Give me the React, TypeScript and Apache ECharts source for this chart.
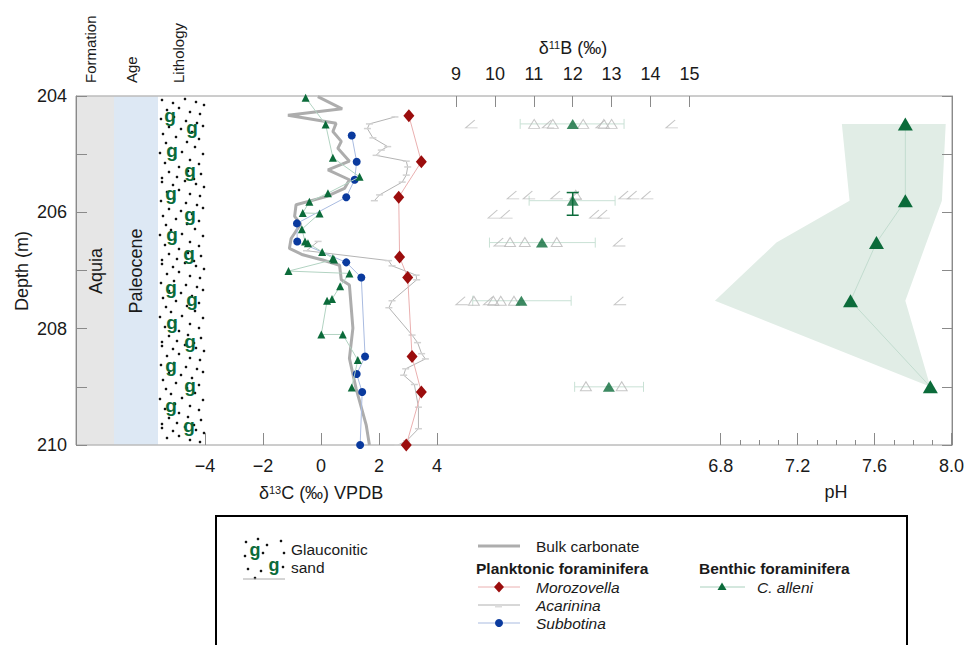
import React, { useEffect, useRef } from 'react';
import * as echarts from 'echarts';

const FONT = "'Liberation Sans', Arial, Helvetica, sans-serif";

// ---------- depth axis ----------
const depthMin = 204;
const depthMax = 210;

// ---------- δ13C panel ----------
const bulkDepth = [204.01, 204.22, 204.33, 204.47, 204.61, 204.78, 204.9, 205.12, 205.27, 205.44, 205.59, 205.73, 205.87, 206.07, 206.2, 206.45, 206.62, 206.73, 206.82, 206.91, 207.16, 207.25, 207.99, 208.51, 209.03, 209.66, 210.0];
const bulkD13C = [-0.11, 0.73, -1.14, 0.52, 0.41, 0.7, 0.58, 0.98, 0.24, 0.98, 0.81, 0.18, -0.86, -0.91, -0.7, -1.03, -1.09, -0.63, 0.06, 0.64, 0.7, 0.98, 1.1, 0.98, 1.21, 1.56, 1.67];

const subbotinaDepth = [204.68, 205.13, 205.44, 205.74, 206.19, 206.5, 206.86, 207.12, 208.48, 208.78, 209.09, 210.0];
const subbotinaD13C = [1.06, 1.23, 1.16, 0.87, -0.83, -0.82, 0.87, 1.39, 1.52, 1.23, 1.42, 1.35];

const morozovellaDepth = [204.34, 205.13, 205.74, 206.77, 207.12, 208.48, 209.09, 210.0];
const morozovellaD13C = [3.03, 3.46, 2.68, 2.71, 2.99, 3.14, 3.46, 2.94];

const acarininaUpperDepth = [204.36, 204.48, 204.56, 204.72, 204.87, 204.93, 205.02, 205.12, 205.22, 205.36, 205.48, 205.7, 205.8];
const acarininaUpperD13C = [2.55, 1.67, 1.6, 1.79, 2.3, 2.08, 1.9, 2.94, 2.99, 2.94, 2.8, 2.02, 1.84];
const acarininaLowerDepth = [206.5, 206.66, 206.83, 206.92, 207.08, 207.16, 207.52, 207.64, 208.11, 208.24, 208.43, 208.52, 208.69, 208.8, 208.96, 209.35, 209.72, 209.93, 210.0];
const acarininaLowerD13C = [-0.1, -0.5, 2.33, 2.45, 3.28, 3.3, 2.45, 2.34, 3.14, 3.33, 3.47, 3.6, 2.92, 2.85, 3.22, 3.36, 3.36, 2.95, 2.65];

const alleniD13CDepth = [204.03, 204.49, 205.06, 205.39, 205.67, 205.82, 206.01, 206.02, 206.29, 206.5, 206.53, 206.68, 206.79, 206.81, 207.01, 207.05, 207.27, 207.49, 207.52, 208.1, 208.1, 208.54, 209.01];
const alleniD13C = [-0.53, 0.16, 0.41, 1.33, 0.24, -0.4, -0.63, -0.05, -0.66, -0.55, -0.45, 0.04, 0.41, 0.45, -1.12, 0.98, 0.66, 0.38, 0.21, 0.01, 0.75, 1.27, 1.06];

const d13CTicks = [-4, -2, 0, 2, 4];

// ---------- δ11B panel ----------
const alleniD11BDepth = [204.48, 205.8, 206.52, 207.52, 209.0];
const alleniD11BMean = [12.0, 12.0, 11.21, 10.68, 12.93];
const alleniD11BLow = [10.65, 10.88, 9.86, 9.43, 12.05];
const alleniD11BHigh = [13.32, 13.09, 12.58, 11.96, 13.82];
const depthErrCenter = [12.0];
const depthErrDepthLow = [205.66];
const depthErrDepthHigh = [206.05];

const specimenDepth = [204.48, 204.48, 204.48, 204.48, 204.48, 205.7, 206.51, 206.51, 206.51, 207.52, 207.52, 207.52, 207.52, 208.99, 208.99];
const specimenD11B = [11.01, 11.49, 12.27, 12.8, 13.0, 12.08, 10.39, 10.77, 11.59, 9.46, 9.96, 10.15, 10.49, 12.34, 13.26];

const acarininaD11BDepth = [204.48, 204.48, 204.48, 204.48, 205.7, 205.7, 205.7, 205.7, 205.7, 205.7, 205.7, 206.03, 206.03, 206.03, 206.03, 206.51, 206.51, 207.52, 207.52, 207.52];
const acarininaD11B = [9.4, 11.37, 12.75, 14.55, 10.47, 10.88, 11.59, 12.08, 13.34, 13.56, 13.92, 9.98, 10.3, 12.59, 12.8, 10.13, 13.2, 9.15, 9.86, 13.22];

// ---------- pH panel ----------
const pHDepth = [204.48, 205.8, 206.52, 207.52, 209.0];
const pHValue = [7.76, 7.76, 7.61, 7.475, 7.89];
const pHLower = [7.43, 7.47, 7.09, 6.77, 7.89];
const pHUpper = [7.97, 7.95, 7.87, 7.76, 7.89];

const C_GREEN = '#0b6b3a';
const C_RED = '#9b0d0d';
const C_BLUE = '#0a3a9e';
const AX = '#8a8a8a';
const TXT = '#1a1a1a';

function vtext(text: string, x: number, y: number, size: number, align: string, extra: any = {}) {
  return {
    type: 'text', x, y, rotation: Math.PI / 2, z: 10,
    style: { text, fontSize: size, fontFamily: FONT, fill: TXT, align, verticalAlign: 'middle', ...extra },
  };
}
function htext(text: string, x: number, y: number, size: number, extra: any = {}) {
  return {
    type: 'text', x, y, z: 10,
    style: { text, fontSize: size, fontFamily: FONT, fill: TXT, align: 'left', verticalAlign: 'middle', ...extra },
  };
}

function buildGraphics() {
  const els: any[] = [];
  // columns
  els.push({ type: 'rect', z: -5, shape: { x: 76.5, y: 96.5, width: 37.5, height: 348 }, style: { fill: '#e6e6e6' } });
  els.push({ type: 'rect', z: -5, shape: { x: 114, y: 96.5, width: 44, height: 348 }, style: { fill: '#dde8f4' } });
  // lithology dots (decorative sand pattern)
  const tile = [[3, 2], [14, 5], [26, 1], [37, 4], [45, 7], [8, 12], [20, 10], [31, 14], [41, 16], [2, 21], [15, 19], [27, 23], [38, 25], [10, 29], [22, 31], [44, 28], [4, 36], [33, 34], [17, 39], [40, 41], [7, 45], [28, 44], [12, 50], [36, 49], [1, 55], [23, 54], [44, 56], [16, 60], [31, 62], [6, 65], [40, 66], [20, 69], [10, 74], [29, 73], [42, 76], [3, 80], [18, 79], [35, 81]];
  for (let ty = 98; ty < 444; ty += 82) {
    for (const [dx, dy] of tile) {
      const cy = ty + dy;
      if (cy > 443) continue;
      els.push({ type: 'circle', z: 1, shape: { cx: 159 + dx, cy, r: 1.3 }, style: { fill: '#111' } });
    }
  }
  const gPos = [[170, 115], [192, 127], [172, 150], [190, 170], [171, 193], [190, 214], [172, 234], [189, 253], [171, 287], [192, 299], [172, 322], [190, 341], [171, 365], [190, 385], [171, 405], [189, 425]];
  for (const [gx, gy] of gPos) {
    els.push({ type: 'text', z: 2, x: gx, y: gy, style: { text: 'g', fontSize: 19, fontWeight: 'bold', fontFamily: FONT, fill: C_GREEN, align: 'center', verticalAlign: 'middle' } });
  }
  // column texts
  els.push(vtext('Aquia', 96, 271, 18, 'center'));
  els.push(vtext('Paleocene', 136, 271, 18, 'center'));
  els.push(vtext('Formation', 90, 83, 15, 'left'));
  els.push(vtext('Age', 131, 83, 15, 'left'));
  els.push(vtext('Lithology', 178, 83, 15, 'left'));
  els.push(vtext('Depth (m)', 22, 271, 18, 'center'));
  // axis titles
  els.push({
    type: 'text', x: 321, y: 493, z: 10,
    style: {
      text: '{a|δ}{s|13}{a|C (‰) VPDB}', align: 'center', verticalAlign: 'middle', fontFamily: FONT, fill: TXT,
      rich: { a: { fontSize: 18, fontFamily: FONT, fill: TXT }, s: { fontSize: 11, fontFamily: FONT, fill: TXT, verticalAlign: 'top' } },
    },
  });
  els.push({
    type: 'text', x: 573, y: 48, z: 10,
    style: {
      text: '{a|δ}{s|11}{a|B (‰)}', align: 'center', verticalAlign: 'middle', fontFamily: FONT, fill: TXT,
      rich: { a: { fontSize: 18, fontFamily: FONT, fill: TXT }, s: { fontSize: 11, fontFamily: FONT, fill: TXT, verticalAlign: 'top' } },
    },
  });
  els.push({ type: 'text', x: 836, y: 492, z: 10, style: { text: 'pH', fontSize: 18, fontFamily: FONT, fill: TXT, align: 'center', verticalAlign: 'middle' } });

  // legend box
  els.push({ type: 'rect', z: 10, shape: { x: 216, y: 516, width: 691, height: 160 }, style: { fill: 'none', stroke: '#000', lineWidth: 2 } });
  // glauconitic icon
  const ld = [[246, 542], [258, 539], [267, 545], [281, 541], [245, 556], [263, 553], [284, 553], [248, 569], [261, 571], [283, 567], [255, 578]];
  for (const [cx, cy] of ld) els.push({ type: 'circle', z: 11, shape: { cx, cy, r: 1.3 }, style: { fill: '#111' } });
  els.push({ type: 'text', z: 11, x: 255, y: 550, style: { text: 'g', fontSize: 18, fontWeight: 'bold', fontFamily: FONT, fill: C_GREEN, align: 'center', verticalAlign: 'middle' } });
  els.push({ type: 'text', z: 11, x: 274, y: 565, style: { text: 'g', fontSize: 18, fontWeight: 'bold', fontFamily: FONT, fill: C_GREEN, align: 'center', verticalAlign: 'middle' } });
  els.push({ type: 'line', z: 11, shape: { x1: 243, y1: 579, x2: 285, y2: 579 }, style: { stroke: '#aaa', lineWidth: 1 } });
  els.push(htext('Glauconitic', 291, 549, 15.5));
  els.push(htext('sand', 291, 567, 15.5));
  // bulk carbonate
  els.push({ type: 'line', z: 11, shape: { x1: 478, y1: 546, x2: 520, y2: 546 }, style: { stroke: '#adadad', lineWidth: 3 } });
  els.push(htext('Bulk carbonate', 536, 546, 15.5));
  els.push(htext('Planktonic foraminifera', 476, 568, 15.5, { fontWeight: 'bold' }));
  // morozovella
  els.push({ type: 'line', z: 11, shape: { x1: 478, y1: 587, x2: 520, y2: 587 }, style: { stroke: '#eab0b0', lineWidth: 1 } });
  els.push({ type: 'polygon', z: 12, shape: { points: [[499, 581.5], [504, 587], [499, 592.5], [494, 587]] }, style: { fill: C_RED } });
  els.push(htext('Morozovella', 536, 587, 15.5, { fontStyle: 'italic' }));
  // acarinina
  els.push({ type: 'line', z: 11, shape: { x1: 478, y1: 605, x2: 520, y2: 605 }, style: { stroke: '#b0b0b0', lineWidth: 1 } });
  els.push({ type: 'rect', z: 12, shape: { x: 495, y: 605.5, width: 7, height: 2 }, style: { fill: '#dcdcdc' } });
  els.push(htext('Acarinina', 536, 605, 15.5, { fontStyle: 'italic' }));
  // subbotina
  els.push({ type: 'line', z: 11, shape: { x1: 478, y1: 623, x2: 520, y2: 623 }, style: { stroke: '#a9bbe0', lineWidth: 1 } });
  els.push({ type: 'circle', z: 12, shape: { cx: 499, cy: 623, r: 4 }, style: { fill: C_BLUE } });
  els.push(htext('Subbotina', 536, 623, 15.5, { fontStyle: 'italic' }));
  // benthic
  els.push(htext('Benthic foraminifera', 699, 568, 15.5, { fontWeight: 'bold' }));
  els.push({ type: 'line', z: 11, shape: { x1: 700, y1: 587, x2: 745, y2: 587 }, style: { stroke: '#a9d0bd', lineWidth: 1 } });
  els.push({ type: 'polygon', z: 12, shape: { points: [[722, 582.5], [726.5, 590], [717.5, 590]] }, style: { fill: C_GREEN } });
  els.push(htext('C. alleni', 757, 587, 15.5, { fontStyle: 'italic' }));
  return els;
}

function hiddenY(gi: number) {
  return { type: 'value', gridIndex: gi, min: depthMin, max: depthMax, inverse: true, show: false };
}

function buildOption(): any {
  const pair = (xs: number[], ds: number[]) => ds.map((d, i) => [xs[i], d]);
  const bandPoly = [
    ...pHDepth.map((d, i) => [pHUpper[i], d]),
    ...pHDepth.map((d, i) => [pHLower[i], d]).reverse(),
  ];
  return {
    animation: false,
    backgroundColor: '#ffffff',
    textStyle: { fontFamily: FONT },
    grid: [
      { left: 76, top: 96, width: 876, height: 349, show: true, borderColor: '#9a9a9a', borderWidth: 1, backgroundColor: 'transparent' },
      { left: 205, top: 96, width: 232, height: 349 },
      { left: 456, top: 96, width: 233.4, height: 349 },
      { left: 720.7, top: 96, width: 231, height: 349 },
    ],
    xAxis: [
      { type: 'value', gridIndex: 0, min: 0, max: 1, show: false },
      {
        type: 'value', gridIndex: 1, min: d13CTicks[0], max: d13CTicks[d13CTicks.length - 1], interval: 2, position: 'bottom', z: 5,
        axisLine: { show: false },
        axisTick: { show: true, inside: true, length: 12, lineStyle: { color: AX } },
        axisLabel: { fontSize: 18, color: TXT, margin: 12, fontFamily: FONT, formatter: (v: number) => (v < 0 ? '\u2212' + Math.abs(v) : String(v)) },
        splitLine: { show: false },
      },
      {
        type: 'value', gridIndex: 2, min: 9, max: 15, interval: 1, position: 'top', z: 5,
        axisLine: { show: false },
        axisTick: { show: true, inside: true, length: 11, lineStyle: { color: AX } },
        axisLabel: { fontSize: 18, color: TXT, margin: 13, fontFamily: FONT },
        splitLine: { show: false },
      },
      {
        type: 'value', gridIndex: 3, min: 6.8, max: 8.0, interval: 0.4, position: 'bottom', z: 5,
        axisLine: { show: false },
        axisTick: { show: true, inside: true, length: 12, lineStyle: { color: AX } },
        minorTick: { show: true, splitNumber: 4, length: 5, lineStyle: { color: AX } },
        axisLabel: { fontSize: 18, color: TXT, margin: 12, fontFamily: FONT, formatter: (v: number) => v.toFixed(1) },
        splitLine: { show: false },
        minorSplitLine: { show: false },
      },
    ],
    yAxis: [
      {
        type: 'value', gridIndex: 0, min: depthMin, max: depthMax, interval: 1, inverse: true, position: 'left', z: 5,
        axisLine: { show: true, lineStyle: { color: AX } },
        axisTick: { show: true, inside: true, length: 11, lineStyle: { color: AX } },
        axisLabel: { fontSize: 18, color: TXT, margin: 9, fontFamily: FONT, formatter: (v: number) => (v % 2 === 0 ? String(v) : '') },
        splitLine: { show: false },
      },
      {
        type: 'value', gridIndex: 0, min: depthMin, max: depthMax, interval: 1, inverse: true, position: 'right', z: 5,
        axisLine: { show: true, lineStyle: { color: AX } },
        axisTick: { show: true, inside: true, length: 10, lineStyle: { color: AX } },
        axisLabel: { show: false },
        splitLine: { show: false },
      },
      hiddenY(1),
      hiddenY(2),
      hiddenY(3),
    ],
    series: [
      // ---- δ13C ----
      {
        name: 'Bulk carbonate', type: 'line', xAxisIndex: 1, yAxisIndex: 2, z: 2,
        data: pair(bulkD13C, bulkDepth), symbol: 'none', lineStyle: { color: '#adadad', width: 3 },
      },
      {
        name: 'Acarinina', type: 'line', xAxisIndex: 1, yAxisIndex: 2, z: 3,
        data: pair(acarininaUpperD13C, acarininaUpperDepth), symbol: 'rect', symbolSize: [7, 1.5], showAllSymbol: true,
        lineStyle: { color: '#b4b4b4', width: 1 }, itemStyle: { color: '#d2d2d2' },
      },
      {
        name: 'Acarinina lower', type: 'line', xAxisIndex: 1, yAxisIndex: 2, z: 3,
        data: pair(acarininaLowerD13C, acarininaLowerDepth), symbol: 'rect', symbolSize: [7, 1.5], showAllSymbol: true,
        lineStyle: { color: '#b4b4b4', width: 1 }, itemStyle: { color: '#d2d2d2' },
      },
      {
        name: 'Subbotina', type: 'line', xAxisIndex: 1, yAxisIndex: 2, z: 4,
        data: pair(subbotinaD13C, subbotinaDepth), symbol: 'circle', symbolSize: 8, showAllSymbol: true,
        lineStyle: { color: '#a9bbe0', width: 1 }, itemStyle: { color: C_BLUE },
      },
      {
        name: 'Morozovella', type: 'line', xAxisIndex: 1, yAxisIndex: 2, z: 4,
        data: pair(morozovellaD13C, morozovellaDepth), symbol: 'diamond', symbolSize: [11, 13], showAllSymbol: true,
        lineStyle: { color: '#eab0b0', width: 1 }, itemStyle: { color: C_RED },
      },
      {
        name: 'C. alleni', type: 'line', xAxisIndex: 1, yAxisIndex: 2, z: 5,
        data: pair(alleniD13C, alleniD13CDepth), symbol: 'triangle', symbolSize: 8, showAllSymbol: true,
        lineStyle: { color: '#b2d3c2', width: 1 }, itemStyle: { color: C_GREEN },
      },
      // ---- δ11B ----
      {
        name: 'd11B error', type: 'custom', xAxisIndex: 2, yAxisIndex: 3, z: 3,
        data: alleniD11BDepth.map((d, i) => [alleniD11BLow[i], alleniD11BHigh[i], d]),
        encode: { x: [0, 1], y: 2 },
        renderItem: (params: any, api: any) => {
          const lo = api.coord([api.value(0), api.value(2)]);
          const hi = api.coord([api.value(1), api.value(2)]);
          const st = { stroke: '#c9e1d5', lineWidth: 1 };
          return {
            type: 'group',
            children: [
              { type: 'line', shape: { x1: lo[0], y1: lo[1], x2: hi[0], y2: hi[1] }, style: st },
              { type: 'line', shape: { x1: lo[0], y1: lo[1] - 5, x2: lo[0], y2: lo[1] + 5 }, style: st },
              { type: 'line', shape: { x1: hi[0], y1: hi[1] - 5, x2: hi[0], y2: hi[1] + 5 }, style: st },
            ],
          };
        },
      },
      {
        name: 'depth error', type: 'custom', xAxisIndex: 2, yAxisIndex: 3, z: 8,
        data: depthErrCenter.map((c, i) => [c, depthErrDepthLow[i], depthErrDepthHigh[i]]),
        encode: { x: 0, y: [1, 2] },
        renderItem: (params: any, api: any) => {
          const a = api.coord([api.value(0), api.value(1)]);
          const b = api.coord([api.value(0), api.value(2)]);
          const st = { stroke: C_GREEN, lineWidth: 1.5 };
          return {
            type: 'group',
            children: [
              { type: 'line', shape: { x1: a[0], y1: a[1], x2: b[0], y2: b[1] }, style: st },
              { type: 'line', shape: { x1: a[0] - 6, y1: a[1], x2: a[0] + 6, y2: a[1] }, style: st },
              { type: 'line', shape: { x1: b[0] - 6, y1: b[1], x2: b[0] + 6, y2: b[1] }, style: st },
            ],
          };
        },
      },
      {
        name: 'Acarinina d11B', type: 'scatter', xAxisIndex: 2, yAxisIndex: 3, z: 4,
        data: pair(acarininaD11B, acarininaD11BDepth),
        symbol: 'path://M10,0 L0,10 L13,10', symbolSize: [12, 8],
        itemStyle: { color: 'rgba(0,0,0,0)', borderColor: '#b8b8b8', borderWidth: 1 },
      },
      {
        name: 'C. alleni specimens', type: 'scatter', xAxisIndex: 2, yAxisIndex: 3, z: 5,
        data: pair(specimenD11B, specimenDepth),
        symbol: 'triangle', symbolSize: [11, 9],
        itemStyle: { color: 'rgba(255,255,255,0)', borderColor: '#b8b8b8', borderWidth: 1 },
      },
      {
        name: 'C. alleni d11B', type: 'scatter', xAxisIndex: 2, yAxisIndex: 3, z: 9,
        data: pair(alleniD11BMean, alleniD11BDepth),
        symbol: 'triangle', symbolSize: [12, 10], itemStyle: { color: C_GREEN },
      },
      // ---- pH ----
      {
        name: 'pH band', type: 'custom', xAxisIndex: 3, yAxisIndex: 4, z: 1,
        data: bandPoly,
        encode: { x: 0, y: 1 },
        renderItem: (params: any, api: any) => {
          if (params.dataIndex !== 0) return null;
          const pts = bandPoly.map((p) => api.coord(p));
          return { type: 'polygon', shape: { points: pts }, style: { fill: '#e1ede6' } };
        },
      },
      {
        name: 'C. alleni pH', type: 'line', xAxisIndex: 3, yAxisIndex: 4, z: 5,
        data: pair(pHValue, pHDepth), symbol: 'triangle', symbolSize: [15, 13], showAllSymbol: true,
        lineStyle: { color: '#c2dccf', width: 1 }, itemStyle: { color: C_GREEN },
      },
    ],
    graphic: { elements: buildGraphics() },
  };
}

export default function App() {
  const ref = useRef<HTMLDivElement>(null);
  useEffect(() => {
    if (!ref.current) return;
    const chart = echarts.init(ref.current, null, { renderer: 'svg' });
    chart.setOption(buildOption());
    return () => chart.dispose();
  }, []);
  return (
    <div
      ref={ref}
      style={{ position: 'fixed', left: 0, top: 0, width: 967, height: 645, background: '#fff' }}
    />
  );
}
